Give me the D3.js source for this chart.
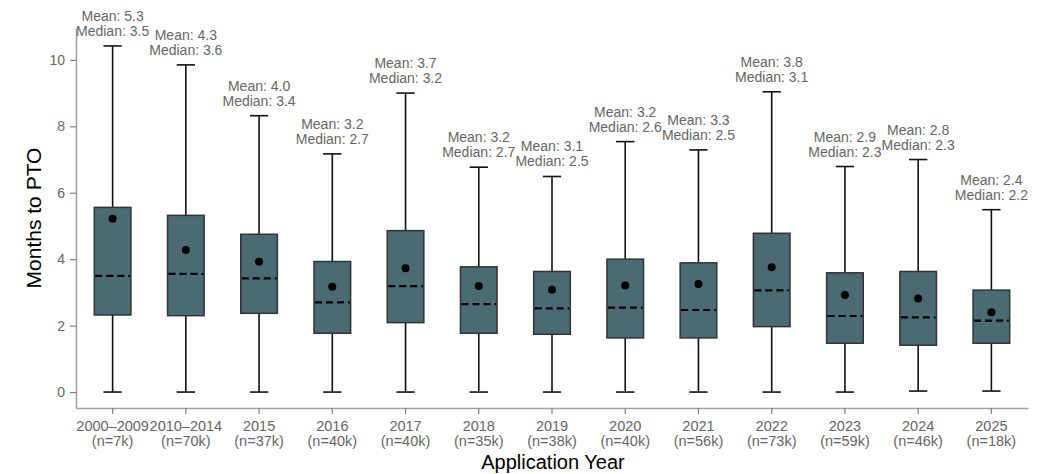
<!DOCTYPE html>
<html><head><meta charset="utf-8">
<script src="https://cdn.jsdelivr.net/npm/d3@7"></script>
<style>body{margin:0;background:#fff;} text{font-family:"Liberation Sans",Arial,sans-serif;}</style>
</head><body><svg id="c" width="1046" height="474"></svg>
<script>
const years = ["2000–2009","2010–2014","2015","2016","2017","2018","2019","2020","2021","2022","2023","2024","2025"];
const counts = ["7k","70k","37k","40k","40k","35k","38k","40k","56k","73k","59k","46k","18k"];
const whiskerLow = [0,0,0,0,0,0,0,0,0,0,0,0.03,0.03];
const q1 = [2.32,2.30,2.37,1.77,2.09,1.77,1.74,1.63,1.63,1.97,1.47,1.41,1.47];
const median = [3.50,3.56,3.42,2.70,3.19,2.65,2.52,2.54,2.47,3.06,2.29,2.25,2.15];
const q3 = [5.56,5.32,4.75,3.93,4.86,3.77,3.63,4.00,3.89,4.78,3.59,3.63,3.07];
const whiskerHigh = [10.42,9.85,8.32,7.17,9.00,6.77,6.49,7.54,7.29,9.04,6.79,7.00,5.49];
const mean = [5.22,4.28,3.92,3.17,3.73,3.19,3.08,3.21,3.25,3.76,2.92,2.82,2.40];
const meanLabel = ["5.3","4.3","4.0","3.2","3.7","3.2","3.1","3.2","3.3","3.8","2.9","2.8","2.4"];
const medianLabel = ["3.5","3.6","3.4","2.7","3.2","2.7","2.5","2.6","2.5","3.1","2.3","2.3","2.2"];
const yTicks = [0,2,4,6,8,10];

const svg = d3.select("#c");
const x = d3.scaleBand().domain(years).range([76,1028]).paddingInner(0).paddingOuter(0);
const y = d3.scaleLinear().domain([-0.48,10.96]).range([408,28]);
const bw = x.bandwidth()*0.5;
const cx = d => x(d)+x.bandwidth()/2;

// axes
const yAxis = svg.append("g").attr("transform","translate(76,0)")
  .call(d3.axisLeft(y).tickValues(yTicks).tickSize(6).tickPadding(5).tickSizeOuter(0));
const xAxis = svg.append("g").attr("transform","translate(0,408)")
  .call(d3.axisBottom(x).tickSize(6).tickPadding(4).tickSizeOuter(0).tickFormat(""));
[yAxis,xAxis].forEach(g=>{
  g.select(".domain").attr("stroke","#a0a0a0").attr("stroke-width",1.5);
  g.selectAll(".tick line").attr("stroke","#808080").attr("stroke-width",1.2);
  g.selectAll(".tick text").attr("fill","#666").style("font-size","14px").style("font-family","Liberation Sans, Arial, sans-serif");
});
xAxis.selectAll(".tick").each(function(d,i){
  const t = d3.select(this).append("text").attr("fill","#666").attr("text-anchor","middle")
    .style("font-size","14.5px");
  t.append("tspan").attr("x",0).attr("y",23).text(d);
  t.append("tspan").attr("x",0).attr("y",38).text("(n="+counts[i]+")");
});

svg.append("text").attr("transform","translate(41,218) rotate(-90)").attr("text-anchor","middle")
  .style("font-size","21px").attr("fill","#000").text("Months to PTO");
svg.append("text").attr("x",553).attr("y",469).attr("text-anchor","middle")
  .style("font-size","20px").attr("fill","#000").text("Application Year");

const g = svg.append("g");
years.forEach((yr,i)=>{
  const c = cx(yr);
  // whiskers
  g.append("line").attr("x1",c).attr("x2",c).attr("y1",y(q3[i])).attr("y2",y(whiskerHigh[i])).attr("stroke","#111").attr("stroke-width",1.6);
  g.append("line").attr("x1",c).attr("x2",c).attr("y1",y(q1[i])).attr("y2",y(whiskerLow[i])).attr("stroke","#111").attr("stroke-width",1.6);
  g.append("line").attr("x1",c-bw/4).attr("x2",c+bw/4).attr("y1",y(whiskerHigh[i])).attr("y2",y(whiskerHigh[i])).attr("stroke","#111").attr("stroke-width",1.6);
  g.append("line").attr("x1",c-bw/4).attr("x2",c+bw/4).attr("y1",y(whiskerLow[i])).attr("y2",y(whiskerLow[i])).attr("stroke","#111").attr("stroke-width",1.6);
  // box
  g.append("rect").attr("x",c-bw/2).attr("width",bw).attr("y",y(q3[i])).attr("height",y(q1[i])-y(q3[i]))
    .attr("fill","#4a6b73").attr("stroke","#333").attr("stroke-width",1.5);
  // median
  g.append("line").attr("x1",c-bw/2+1).attr("x2",c+bw/2-1).attr("y1",y(median[i])).attr("y2",y(median[i]))
    .attr("stroke","#000").attr("stroke-width",2.2).attr("stroke-dasharray","7,4");
  // mean
  g.append("circle").attr("cx",c).attr("cy",y(mean[i])).attr("r",4).attr("fill","#000");
  // labels
  const top = y(whiskerHigh[i]);
  g.append("text").attr("x",c).attr("y",top-25).attr("text-anchor","middle").attr("fill","#666").style("font-size","14px").text("Mean: "+meanLabel[i]);
  g.append("text").attr("x",c).attr("y",top-10).attr("text-anchor","middle").attr("fill","#666").style("font-size","14px").text("Median: "+medianLabel[i]);
});
</script></body></html>
